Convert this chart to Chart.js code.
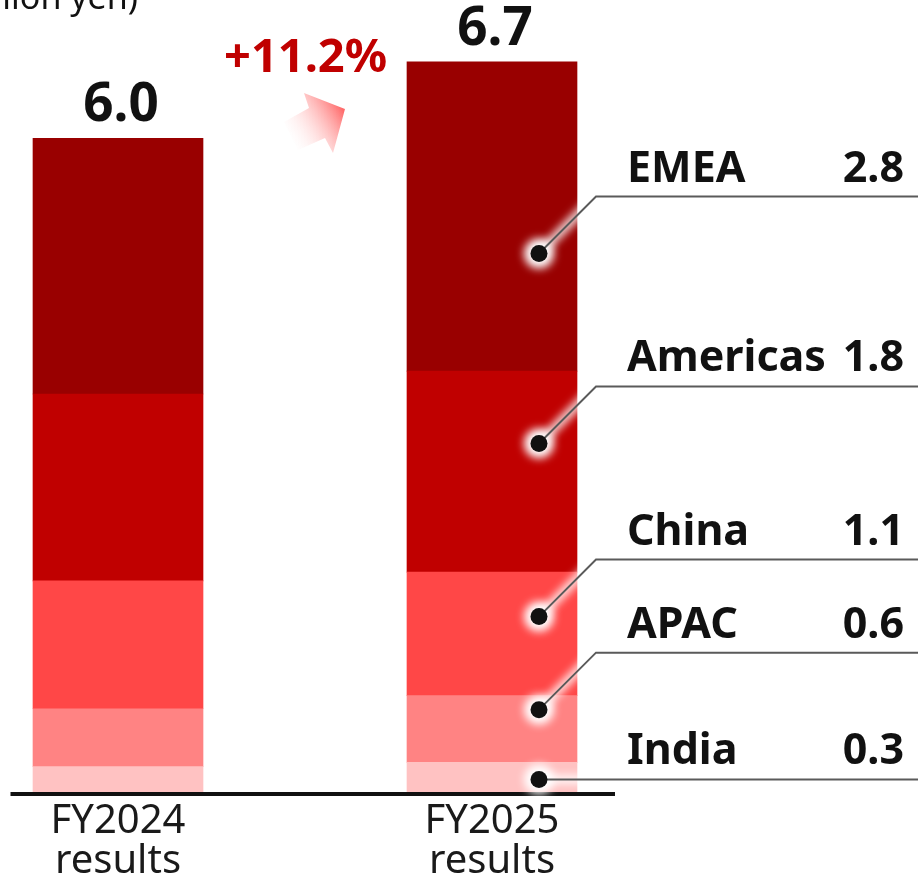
<!DOCTYPE html>
<html>
<head>
<meta charset="utf-8">
<script src="https://cdn.jsdelivr.net/npm/chart.js@4.4.0/dist/chart.umd.min.js"></script>
<style>
  html, body { margin: 0; padding: 0; background: #fff; }
  #wrap { width: 918px; height: 874px; }
</style>
</head>
<body>
<div id="wrap"><canvas id="chart" width="918" height="874"></canvas></div>
<script>
/* ── data (trillion yen) ── */
const categories = [['FY2024', 'results'], ['FY2025', 'results']];
const regions = ['India', 'APAC', 'China', 'Americas', 'EMEA'];   // bottom → top
const india    = [0.25, 0.29];
const apac     = [0.53, 0.61];
const china    = [1.17, 1.13];
const americas = [1.71, 1.84];
const emea     = [2.34, 2.83];
const growthLabel = '+11.2%';
const unitLabel = '(trillion yen)';

const seriesValues = [india, apac, china, americas, emea];
const regionColors = ['#ffc2c2', '#ff8383', '#ff4747', '#c00000', '#990000'];
const FONT = '"Noto Sans", sans-serif';

// callout placement (FY2025 bar): where the dot sits inside each segment, and how far the leader rises
const dotFrac = [0.46, 0.79, 0.64, 0.64, 0.38];
const leaderRise = [0, 57, 57, 57, 57];

const decorPlugin = {
  id: 'decor',
  afterDatasetsDraw(chart) {
    const ctx = chart.ctx;
    const yScale = chart.scales.y;

    // baseline
    ctx.save();
    ctx.strokeStyle = '#111';
    ctx.lineWidth = 4;
    ctx.beginPath();
    ctx.moveTo(10.5, yScale.bottom);
    ctx.lineTo(615, yScale.bottom);
    ctx.stroke();

    // totals above the bars
    const topMeta = chart.getDatasetMeta(seriesValues.length - 1);
    ctx.fillStyle = '#111';
    ctx.font = 'bold 53px ' + FONT;
    ctx.textAlign = 'center';
    ctx.textBaseline = 'alphabetic';
    categories.forEach((c, i) => {
      const bar = topMeta.data[i];
      const total = seriesValues.reduce((s, arr) => s + arr[i], 0);
      ctx.fillText(total.toFixed(1), bar.x + 3, bar.y - 17);
    });

    // unit (cut off at top edge like the original)
    ctx.font = '34px ' + FONT;
    ctx.textAlign = 'right';
    ctx.fillText(unitLabel, 138, 9);

    // growth label
    ctx.fillStyle = '#c00000';
    ctx.font = 'bold 47px ' + FONT;
    ctx.textAlign = 'left';
    ctx.fillText(growthLabel, 224, 72);

    // arrow
    const g = ctx.createLinearGradient(286, 142, 342, 108);
    g.addColorStop(0, 'rgba(255,255,255,0)');
    g.addColorStop(1, '#ff6b6b');
    ctx.fillStyle = g;
    ctx.beginPath();
    ctx.moveTo(298, 150);
    ctx.lineTo(284, 122);
    ctx.lineTo(309, 108);
    ctx.lineTo(304, 93);
    ctx.lineTo(345, 109);
    ctx.lineTo(333, 153);
    ctx.lineTo(325, 138);
    ctx.closePath();
    ctx.fill();

    // callouts for the FY2025 bar
    const last = categories.length - 1;
    let base = 0;
    seriesValues.forEach((arr, k) => {
      const v = arr[last];
      const bar = chart.getDatasetMeta(k).data[last];
      const dx = bar.x + 47;
      const dy = yScale.getPixelForValue(base + dotFrac[k] * v);
      const ex = dx + 57;
      const ey = dy - leaderRise[k];
      base += v;

      // white glow
      ctx.save();
      ctx.filter = 'blur(4px)';
      ctx.strokeStyle = 'rgba(255,255,255,0.9)';
      ctx.lineWidth = 9;
      ctx.beginPath();
      ctx.moveTo(dx, dy);
      ctx.lineTo(ex, ey);
      ctx.stroke();
      ctx.fillStyle = '#fff';
      ctx.beginPath();
      ctx.arc(dx, dy, 15, 0, Math.PI * 2);
      ctx.fill();
      ctx.restore();

      // leader line
      ctx.strokeStyle = '#5a5a5a';
      ctx.lineWidth = 2;
      ctx.beginPath();
      ctx.moveTo(dx, dy);
      ctx.lineTo(ex, ey);
      ctx.lineTo(918, ey);
      ctx.stroke();

      // dot
      ctx.fillStyle = '#111';
      ctx.beginPath();
      ctx.arc(dx, dy, 8.5, 0, Math.PI * 2);
      ctx.fill();

      // label + value
      ctx.font = 'bold 43px ' + FONT;
      ctx.textAlign = 'left';
      ctx.fillText(regions[k], 627, ey - 15);
      ctx.textAlign = 'right';
      ctx.fillText(v.toFixed(1), 904, ey - 15);
    });
    ctx.restore();
  }
};

new Chart(document.getElementById('chart'), {
  type: 'bar',
  data: {
    labels: categories,
    datasets: seriesValues.map((arr, k) => ({
      label: regions[k],
      data: arr,
      backgroundColor: regionColors[k],
      borderWidth: 0,
      barThickness: 170,
      clip: false
    }))
  },
  options: {
    responsive: false,
    animation: false,
    layout: { padding: { left: 118, right: 426, top: 29, bottom: 0 } },
    plugins: {
      legend: { display: false },
      tooltip: { enabled: false }
    },
    scales: {
      x: {
        stacked: true,
        offset: false,
        grid: { display: false },
        border: { display: false },
        ticks: {
          color: '#1a1a1a',
          font: { family: FONT, size: 40, lineHeight: 1.0 },
          padding: 0,
          maxRotation: 0,
          autoSkip: false
        },
        afterFit: s => { s.height = 80; }
      },
      y: { stacked: true, display: false, min: 0, max: 7 }
    }
  },
  plugins: [decorPlugin]
});
</script>
</body>
</html>
